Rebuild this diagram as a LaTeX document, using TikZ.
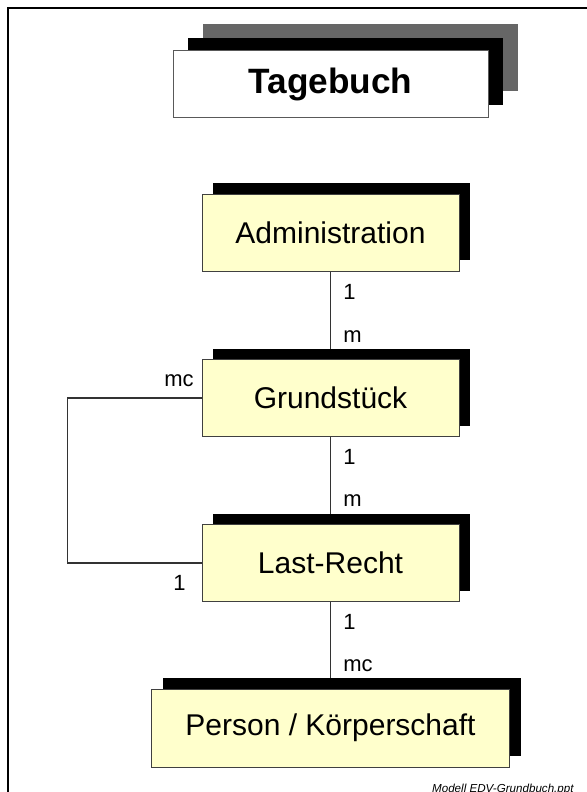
\documentclass[tikz,border=0pt]{standalone}
\usepackage{fontspec}
\setmainfont{Liberation Sans}
\usetikzlibrary{shadows}

\definecolor{entityfill}{HTML}{FFFFCC}
\definecolor{backshade}{HTML}{666666}

\tikzset{%
  entity/.style = {
    draw = black!75,
    line width = 0.5pt,
    fill = entityfill,
    minimum width = 128.5pt,
    minimum height = 38.5pt,
    font = \fontsize{15}{18}\selectfont,
    general shadow = {fill=black, shadow xshift=5.5pt, shadow yshift=5.5pt}
  },
  titlebox/.style = {
    draw = black!65,
    line width = 0.5pt,
    fill = white,
    minimum width = 157.5pt,
    minimum height = 33.5pt,
    font = \fontsize{17.6}{21}\selectfont\bfseries,
    general shadow = {fill=backshade, shadow xshift=14.75pt, shadow yshift=13.25pt},
    general shadow = {fill=black, shadow xshift=7.5pt, shadow yshift=6.5pt}
  },
  card/.style = {
    inner sep = 0pt,
    font = \fontsize{11}{13}\selectfont
  },
  rel/.style = {
    draw = black!80,
    line width = 0.7pt
  }
}

\begin{document}
\begin{tikzpicture}[x=0.5pt, y=-0.5pt]
  \useasboundingbox (0,0) rectangle (587,792);
  % page frame, only top and left edge fall inside
  \draw[line width=1pt] (7.5,8.5) rectangle (620,820);

  \node[titlebox] (tagebuch) at (330.5,84.5) {Tagebuch};

  % connectors first, the boxes go on top
  \coordinate (adm) at (330.5,232.5);
  \coordinate (gst) at (330.5,398);
  \coordinate (lst) at (330.5,563);
  \coordinate (prs) at (330.5,728);
  \draw[rel] (adm) -- (gst) -- (lst) -- (prs);

  \node[entity] (admin) at (adm) {Administration};
  \node[entity] (grund) at (gst) {Grundstück};
  \node[entity] (last) at (lst) {Last-Recht};
  \node[entity, minimum width=179pt, minimum height=39pt] (person) at (prs) {Person / Körperschaft};

  \draw[rel] (grund.west) -- ++(-134,0) |- (last.west);

  % cardinalities
  \node[card, anchor=west] at (343,292) {1};
  \node[card, anchor=west] at (343,336.5) {m};
  \node[card, anchor=west] at (343,457) {1};
  \node[card, anchor=west] at (343,501) {m};
  \node[card, anchor=west] at (343,622) {1};
  \node[card, anchor=west] at (343,666) {mc};
  \node[card, anchor=east] at (194,381) {mc};
  \node[card, anchor=east] at (186,583) {1};

  \node[anchor=base east, inner sep=0pt, font=\fontsize{5.8}{7}\selectfont\itshape] (footer) at (574,792) {Modell EDV-Grundbuch.ppt};
\end{tikzpicture}
\end{document}
